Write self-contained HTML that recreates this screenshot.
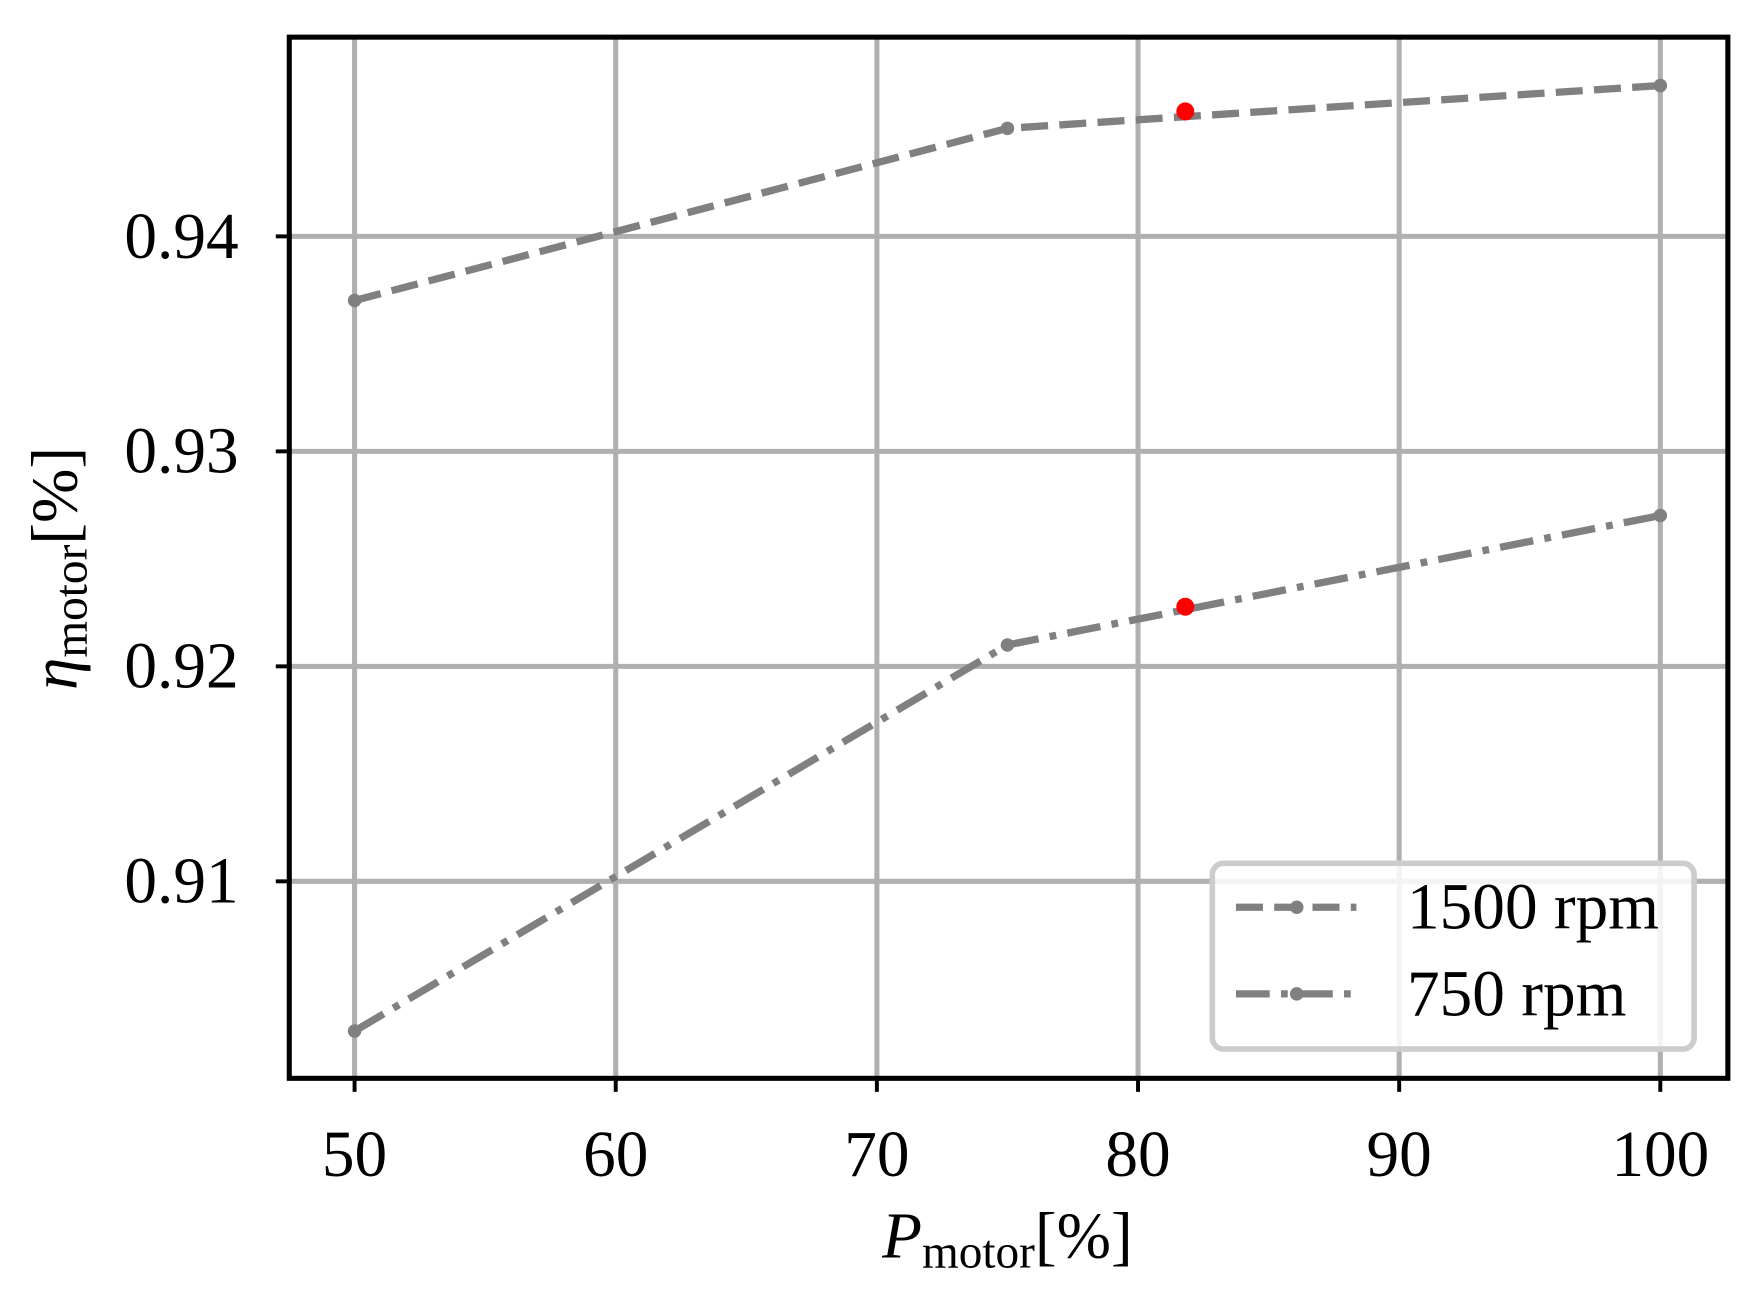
<!DOCTYPE html>
<html><head><style>html,body{margin:0;padding:0;background:#fff}svg{display:block}</style></head>
<body>
<svg width="1756" height="1295" viewBox="0 0 1560 1150.5" preserveAspectRatio="none" xmlns="http://www.w3.org/2000/svg" font-family="Liberation Serif, serif">
<g stroke="#b0b0b0" stroke-width="4.5">
<line x1="315" y1="33" x2="315" y2="958"/><line x1="547" y1="33" x2="547" y2="958"/>
<line x1="779" y1="33" x2="779" y2="958"/><line x1="1011" y1="33" x2="1011" y2="958"/>
<line x1="1243" y1="33" x2="1243" y2="958"/><line x1="1475" y1="33" x2="1475" y2="958"/>
<line x1="257" y1="210" x2="1535" y2="210"/><line x1="257" y1="401" x2="1535" y2="401"/>
<line x1="257" y1="592" x2="1535" y2="592"/><line x1="257" y1="783" x2="1535" y2="783"/>
</g>
<g stroke="#808080" stroke-width="6.5" fill="none">
<polyline points="315,267 895,114 1475,76" stroke-dasharray="24,10"/>
<polyline points="315,916 895,573 1475,458" stroke-dasharray="30,10,6,10"/>
</g>
<g fill="#808080">
<circle cx="315" cy="267" r="6"/><circle cx="895" cy="114" r="6"/><circle cx="1475" cy="76" r="6"/>
<circle cx="315" cy="916" r="6"/><circle cx="895" cy="573" r="6"/><circle cx="1475" cy="458" r="6"/>
</g>
<circle cx="1053" cy="99" r="8" fill="red"/><circle cx="1053" cy="539" r="8" fill="red"/>
<rect x="257" y="33" width="1278" height="925" fill="none" stroke="#000" stroke-width="4.5"/>
<g stroke="#000" stroke-width="3.5">
<line x1="315" y1="958" x2="315" y2="970"/><line x1="547" y1="958" x2="547" y2="970"/><line x1="779" y1="958" x2="779" y2="970"/><line x1="1011" y1="958" x2="1011" y2="970"/><line x1="1243" y1="958" x2="1243" y2="970"/><line x1="1475" y1="958" x2="1475" y2="970"/>
<line x1="245" y1="210" x2="257" y2="210"/><line x1="245" y1="401" x2="257" y2="401"/><line x1="245" y1="592" x2="257" y2="592"/><line x1="245" y1="783" x2="257" y2="783"/>
</g>
<g font-size="58" fill="#000" text-anchor="middle">
<text x="315" y="1045">50</text><text x="547" y="1045">60</text><text x="779" y="1045">70</text><text x="1011" y="1045">80</text><text x="1243" y="1045">90</text><text x="1475" y="1045">100</text>
</g>
<g font-size="58" fill="#000" text-anchor="end">
<text x="212" y="229">0.94</text><text x="212" y="420">0.93</text><text x="212" y="611">0.92</text><text x="212" y="802">0.91</text>
</g>
<text x="895" y="1117" font-size="58" text-anchor="middle"><tspan font-style="italic">P</tspan><tspan font-size="42" dy="9">motor</tspan><tspan dy="-9">[%]</tspan></text>
<text transform="translate(68,505) rotate(-90)" font-size="58" text-anchor="middle"><tspan font-style="italic">η</tspan><tspan font-size="42" dy="9">motor</tspan><tspan dy="-9">[%]</tspan></text>
<rect x="1077" y="767" width="428" height="165" rx="10" fill="#fff" fill-opacity="0.85" stroke="#cccccc" stroke-width="5"/>
<line x1="1098" y1="806" x2="1205" y2="806" stroke="#808080" stroke-width="6.5" stroke-dasharray="24,10"/>
<circle cx="1152" cy="806" r="6" fill="#808080"/>
<line x1="1098" y1="883" x2="1205" y2="883" stroke="#808080" stroke-width="6.5" stroke-dasharray="30,10,6,10"/>
<circle cx="1152" cy="883" r="6" fill="#808080"/>
<text x="1250" y="825" font-size="58">1500 rpm</text>
<text x="1250" y="902" font-size="58">750 rpm</text>
</svg>
</body></html>
